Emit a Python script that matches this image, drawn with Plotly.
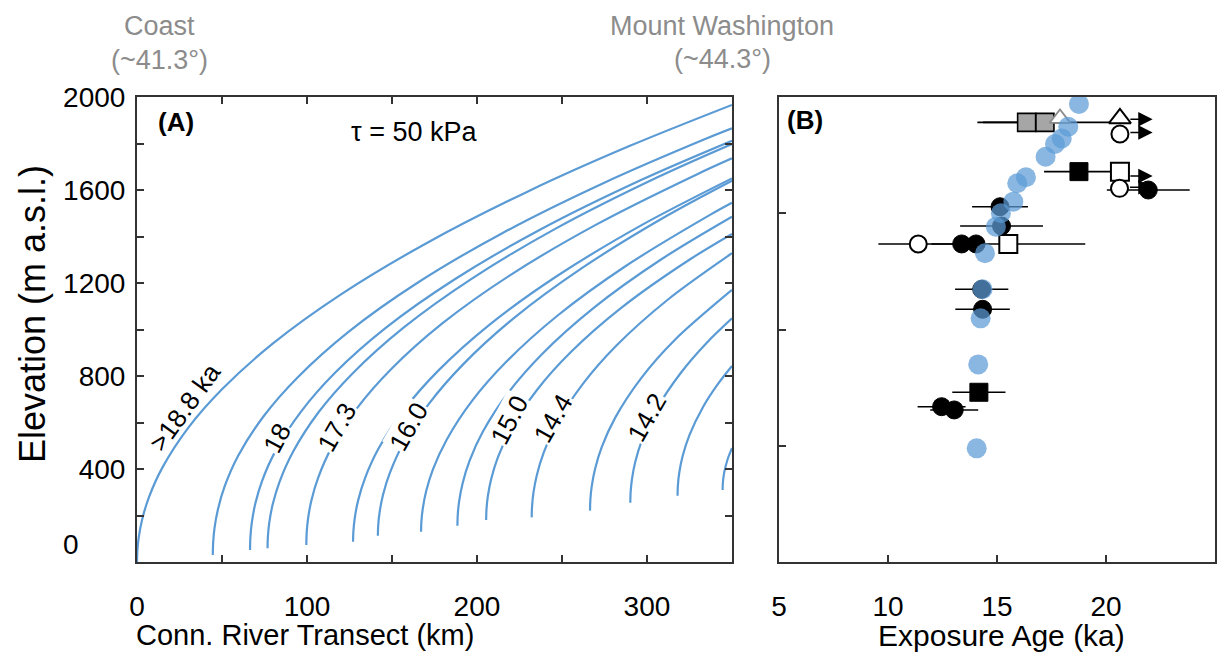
import plotly.graph_objects as go

# ---------------- Panel A: ice-surface profiles (km, m a.s.l.) ----------------
c1_km = [0, 0.2, 1, 3, 7, 15, 30, 50, 80, 120, 170, 230, 290, 350]
c1_m = [0, 47, 105, 182, 278, 407, 576, 743, 940, 1151, 1370, 1594, 1790, 1966]
c2_km = [44.6, 44.8, 45.6, 47.6, 51.6, 59.6, 74.6, 94.6, 124.6, 164.6, 214.6, 274.6, 334.6, 350]
c2_m = [30, 83, 146, 226, 326, 458, 628, 795, 991, 1199, 1413, 1630, 1820, 1865]
c3_km = [66.5, 66.7, 67.5, 69.5, 73.5, 81.5, 96.5, 116.5, 146.5, 186.5, 236.5, 296.5, 350]
c3_m = [52, 105, 167, 248, 347, 478, 647, 814, 1008, 1214, 1427, 1643, 1812]
c4_km = [76.8, 77.0, 77.8, 79.8, 83.8, 91.8, 106.8, 126.8, 156.8, 196.8, 246.8, 306.8, 350]
c4_m = [59, 108, 168, 247, 344, 474, 644, 811, 1008, 1218, 1436, 1657, 1798]
c5_km = [99.6, 99.8, 100.6, 102.6, 106.6, 114.6, 129.6, 149.6, 179.6, 219.6, 269.6, 329.6, 350]
c5_m = [73, 124, 185, 265, 363, 494, 663, 830, 1026, 1234, 1449, 1668, 1736]
c6_km = [127.1, 127.3, 128.1, 130.1, 134.1, 142.1, 157.1, 177.1, 207.1, 247.1, 297.1, 350]
c6_m = [87, 132, 189, 265, 360, 488, 655, 822, 1019, 1230, 1450, 1650]
c7_km = [141.7, 141.9, 142.7, 144.7, 148.7, 156.7, 171.7, 191.7, 221.7, 261.7, 311.7, 350]
c7_m = [113, 157, 213, 288, 382, 511, 680, 849, 1049, 1264, 1489, 1640]
c8_km = [167.1, 167.3, 168.1, 170.1, 174.1, 182.1, 197.1, 217.1, 247.1, 287.1, 337.1, 350]
c8_m = [130, 174, 229, 304, 398, 525, 693, 860, 1058, 1271, 1493, 1545]
c9_km = [188.5, 188.7, 189.5, 191.5, 195.5, 203.5, 218.5, 238.5, 268.5, 308.5, 350]
c9_m = [156, 203, 261, 337, 433, 561, 729, 896, 1092, 1302, 1485]
c10_km = [205.4, 205.6, 206.4, 208.4, 212.4, 220.4, 235.4, 255.4, 285.4, 325.4, 350]
c10_m = [181, 227, 283, 358, 452, 577, 741, 904, 1096, 1302, 1411]
c11_km = [232.2, 232.4, 233.2, 235.2, 239.2, 247.2, 262.2, 282.2, 312.2, 350]
c11_m = [192, 239, 297, 373, 469, 598, 765, 932, 1128, 1328]
c12_km = [266.5, 266.7, 267.5, 269.5, 273.5, 281.5, 296.5, 316.5, 350]
c12_m = [221, 267, 325, 401, 496, 623, 790, 956, 1170]
c13_km = [290.2, 290.4, 291.2, 293.2, 297.2, 305.2, 320.2, 335.2, 350]
c13_m = [255, 301, 357, 433, 526, 652, 816, 943, 1048]
c14_km = [318, 318.2, 319, 321, 325, 333, 342, 350]
c14_m = [285, 329, 384, 456, 546, 667, 768, 843]
c15_km = [344.5, 344.7, 345.5, 347.5, 350]
c15_m = [310, 344, 387, 443, 490]

label_text = [">18.8 ka", "18", "17.3", "16.0", "15.0", "14.4", "14.2"]
label_km = [28.2, 82.5, 117.5, 159.5, 219.0, 245.0, 300.0]
label_m = [668, 532, 582, 582, 611, 618, 625]
label_angle = [-54, -62, -60, -60, -62, -60, -60]
label_inline = [False, True, True, True, True, True, True]

xA_ticks = [0, 100, 200, 300]
xA_minor = [50, 150, 250]
yA_ticks = [0, 400, 800, 1200, 1600, 2000]
yA_text = ["", "400", "800", "1200", "1600", "2000"]
yA_minor = [200, 600, 1000, 1400, 1800]

# ---------------- Panel B: exposure ages (ka) vs elevation (m) ----------------
model_age = [18.76, 18.27, 17.97, 17.66, 17.23, 16.33, 15.93, 15.75, 15.18, 14.95, 14.45, 14.34, 14.25, 14.14, 14.07]
model_elev = [1970, 1872, 1822, 1798, 1743, 1655, 1629, 1550, 1500, 1442, 1328, 1173, 1048, 850, 489]

fc_age = [21.94, 15.14, 15.21, 13.38, 14.04, 14.30, 14.34, 12.46, 13.04]
fc_elev = [1600, 1528, 1445, 1368, 1368, 1173, 1087, 668, 654]
fc_err = [1.9, 1.28, 1.9, 0, 0, 1.22, 1.25, 1.1, 1.1]

oc_age = [20.64, 20.62, 11.39]
oc_elev = [1841, 1607, 1368]
oc_err = [0, 0, 1.83]

fs_age = [18.76, 14.17]
fs_elev = [1679, 730]
fs_err = [1.6, 1.22]

os_age = [20.64, 15.52]
os_elev = [1679, 1368]
os_err = [0, 3.53]

gs_age = [16.36, 17.20]
gs_elev = [1891, 1891]
gs_err = [2.0, 3.1]

ot_age = [20.64]
ot_elev = [1908]
gt_age = [17.89]
gt_elev = [1908]

arrow_from = [21.05, 21.05, 21.05, 21.03]
arrow_to = [22.14, 22.14, 22.14, 22.14]
arrow_elev = [1904, 1847, 1660, 1612]

xB_ticks = [5, 10, 15, 20, 25]
yB_ticks = [0, 500, 1000, 1500, 2000]

# ---------------- styles ----------------
BLUE = "rgb(91,155,213)"
AX = "#333333"
GRAY = "#8c8c8c"
FONT = "Liberation Sans, Arial, Helvetica, sans-serif"

fig = go.Figure()

curves = [(c1_km, c1_m), (c2_km, c2_m), (c3_km, c3_m), (c4_km, c4_m), (c5_km, c5_m),
          (c6_km, c6_m), (c7_km, c7_m), (c8_km, c8_m), (c9_km, c9_m), (c10_km, c10_m),
          (c11_km, c11_m), (c12_km, c12_m), (c13_km, c13_m), (c14_km, c14_m), (c15_km, c15_m)]
for xs, ys in curves:
    fig.add_trace(go.Scatter(x=xs, y=ys, mode="lines", xaxis="x", yaxis="y",
                             line=dict(color=BLUE, width=2.2, shape="spline", smoothing=0.9),
                             hoverinfo="skip", showlegend=False))

def errx(vals):
    return dict(type="data", array=vals, symmetric=True, width=0, thickness=1.6, color="black")

fig.add_trace(go.Scatter(x=gs_age, y=gs_elev, mode="markers", xaxis="x2", yaxis="y2",
                         error_x=errx(gs_err),
                         marker=dict(symbol="square", size=18, color="#a6a6a6",
                                     line=dict(color="black", width=1.6)),
                         showlegend=False, hoverinfo="skip"))
fig.add_trace(go.Scatter(x=gt_age, y=gt_elev, mode="markers", xaxis="x2", yaxis="y2",
                         marker=dict(symbol="triangle-up", size=18, color="white",
                                     line=dict(color="#8c8c8c", width=1.8)),
                         showlegend=False, hoverinfo="skip"))
fig.add_trace(go.Scatter(x=fs_age, y=fs_elev, mode="markers", xaxis="x2", yaxis="y2",
                         error_x=errx(fs_err),
                         marker=dict(symbol="square", size=18, color="black",
                                     line=dict(color="black", width=1)),
                         showlegend=False, hoverinfo="skip"))
fig.add_trace(go.Scatter(x=os_age, y=os_elev, mode="markers", xaxis="x2", yaxis="y2",
                         error_x=errx(os_err),
                         marker=dict(symbol="square", size=18, color="white",
                                     line=dict(color="black", width=2)),
                         showlegend=False, hoverinfo="skip"))
fig.add_trace(go.Scatter(x=fc_age, y=fc_elev, mode="markers", xaxis="x2", yaxis="y2",
                         error_x=errx(fc_err),
                         marker=dict(symbol="circle", size=18, color="black",
                                     line=dict(color="black", width=1)),
                         showlegend=False, hoverinfo="skip"))
fig.add_trace(go.Scatter(x=oc_age, y=oc_elev, mode="markers", xaxis="x2", yaxis="y2",
                         error_x=errx(oc_err),
                         marker=dict(symbol="circle", size=17, color="white",
                                     line=dict(color="black", width=2)),
                         showlegend=False, hoverinfo="skip"))
fig.add_trace(go.Scatter(x=ot_age, y=ot_elev, mode="markers", xaxis="x2", yaxis="y2",
                         marker=dict(symbol="triangle-up", size=19, color="white",
                                     line=dict(color="black", width=2)),
                         showlegend=False, hoverinfo="skip"))
fig.add_trace(go.Scatter(x=model_age, y=model_elev, mode="markers", xaxis="x2", yaxis="y2",
                         marker=dict(symbol="circle", size=20, color=BLUE, opacity=0.72,
                                     line=dict(width=0)),
                         showlegend=False, hoverinfo="skip"))

annotations = []
for t, xk, ym, ang, inl in zip(label_text, label_km, label_m, label_angle, label_inline):
    a = dict(text=t, x=xk, y=ym, xref="x", yref="y", showarrow=False,
             textangle=ang, font=dict(size=26, color="black", family=FONT))
    if inl:
        a.update(bgcolor="white", borderpad=0)
    annotations.append(a)

for a0, a1, ye in zip(arrow_from, arrow_to, arrow_elev):
    annotations.append(dict(text="", x=a1, y=ye, ax=a0, ay=ye, xref="x2", yref="y2",
                            axref="x2", ayref="y2", showarrow=True, arrowhead=2,
                            arrowsize=1.8, arrowwidth=1.6, arrowcolor="black", standoff=0))

def ptxt(text, x, y, size=27, color="black", bold=False, angle=0):
    return dict(text=("<b>%s</b>" % text) if bold else text, x=x, y=y, xref="paper", yref="paper",
                showarrow=False, xanchor="center", yanchor="middle", textangle=angle,
                borderpad=0, font=dict(size=size, color=color, family=FONT))

annotations += [
    ptxt("(A)", 0.0362, 0.9462, size=26, bold=True),
    ptxt("τ = 50 kPa", 0.2570, 0.9247, size=27),
    ptxt("(B)", 0.6197, 0.9505, size=26, bold=True),
    ptxt("Coast", 0.0213, 1.1527, size=27, color=GRAY),
    ptxt("(~41.3°)", 0.0213, 1.0796, size=27, color=GRAY),
    ptxt("Mount Washington", 0.5427, 1.1527, size=27, color=GRAY),
    ptxt("(~44.3°)", 0.5427, 1.0818, size=27, color=GRAY),
    ptxt("Conn. River Transect (km)", 0.1558, -0.157, size=29),
    ptxt("Exposure Age (ka)", 0.8024, -0.157, size=30),
    ptxt("Elevation (m a.s.l.)", -0.0974, 0.5333, size=36, angle=-90),
    ptxt("0", -0.0612, 0.0366, size=28),
]

axis_common = dict(showline=True, linewidth=2, linecolor=AX, showgrid=False, zeroline=False,
                   ticks="inside", ticklen=7, tickwidth=2, tickcolor=AX,
                   tickfont=dict(size=28, color="black", family=FONT))

fig.update_layout(
    width=1222, height=651,
    margin=dict(l=129, r=15, t=89, b=97),
    paper_bgcolor="white", plot_bgcolor="white",
    font=dict(family=FONT, color="black"),
    showlegend=False,
    xaxis=dict(domain=[0, 0.5519], range=[0, 350], tickvals=xA_ticks, mirror="ticks",
               anchor="y", ticklabelstandoff=18,
               minor=dict(tickvals=xA_minor, ticks="inside", ticklen=7, tickwidth=2, tickcolor=AX),
               **axis_common),
    yaxis=dict(domain=[0, 1], range=[0, 2000], tickvals=yA_ticks, ticktext=yA_text,
               mirror="ticks", anchor="x", ticklabelstandoff=4,
               minor=dict(tickvals=yA_minor, ticks="inside", ticklen=7, tickwidth=2, tickcolor=AX),
               **axis_common),
    xaxis2=dict(domain=[0.5955, 1], range=[5, 25], tickvals=xB_ticks, mirror=True,
                anchor="y2", ticklabelstandoff=18, **axis_common),
    yaxis2=dict(domain=[0, 1], range=[0, 2000], tickvals=yB_ticks, showticklabels=False,
                mirror=True, anchor="x2", **axis_common),
    annotations=annotations,
)

fig.write_html("out.html")
